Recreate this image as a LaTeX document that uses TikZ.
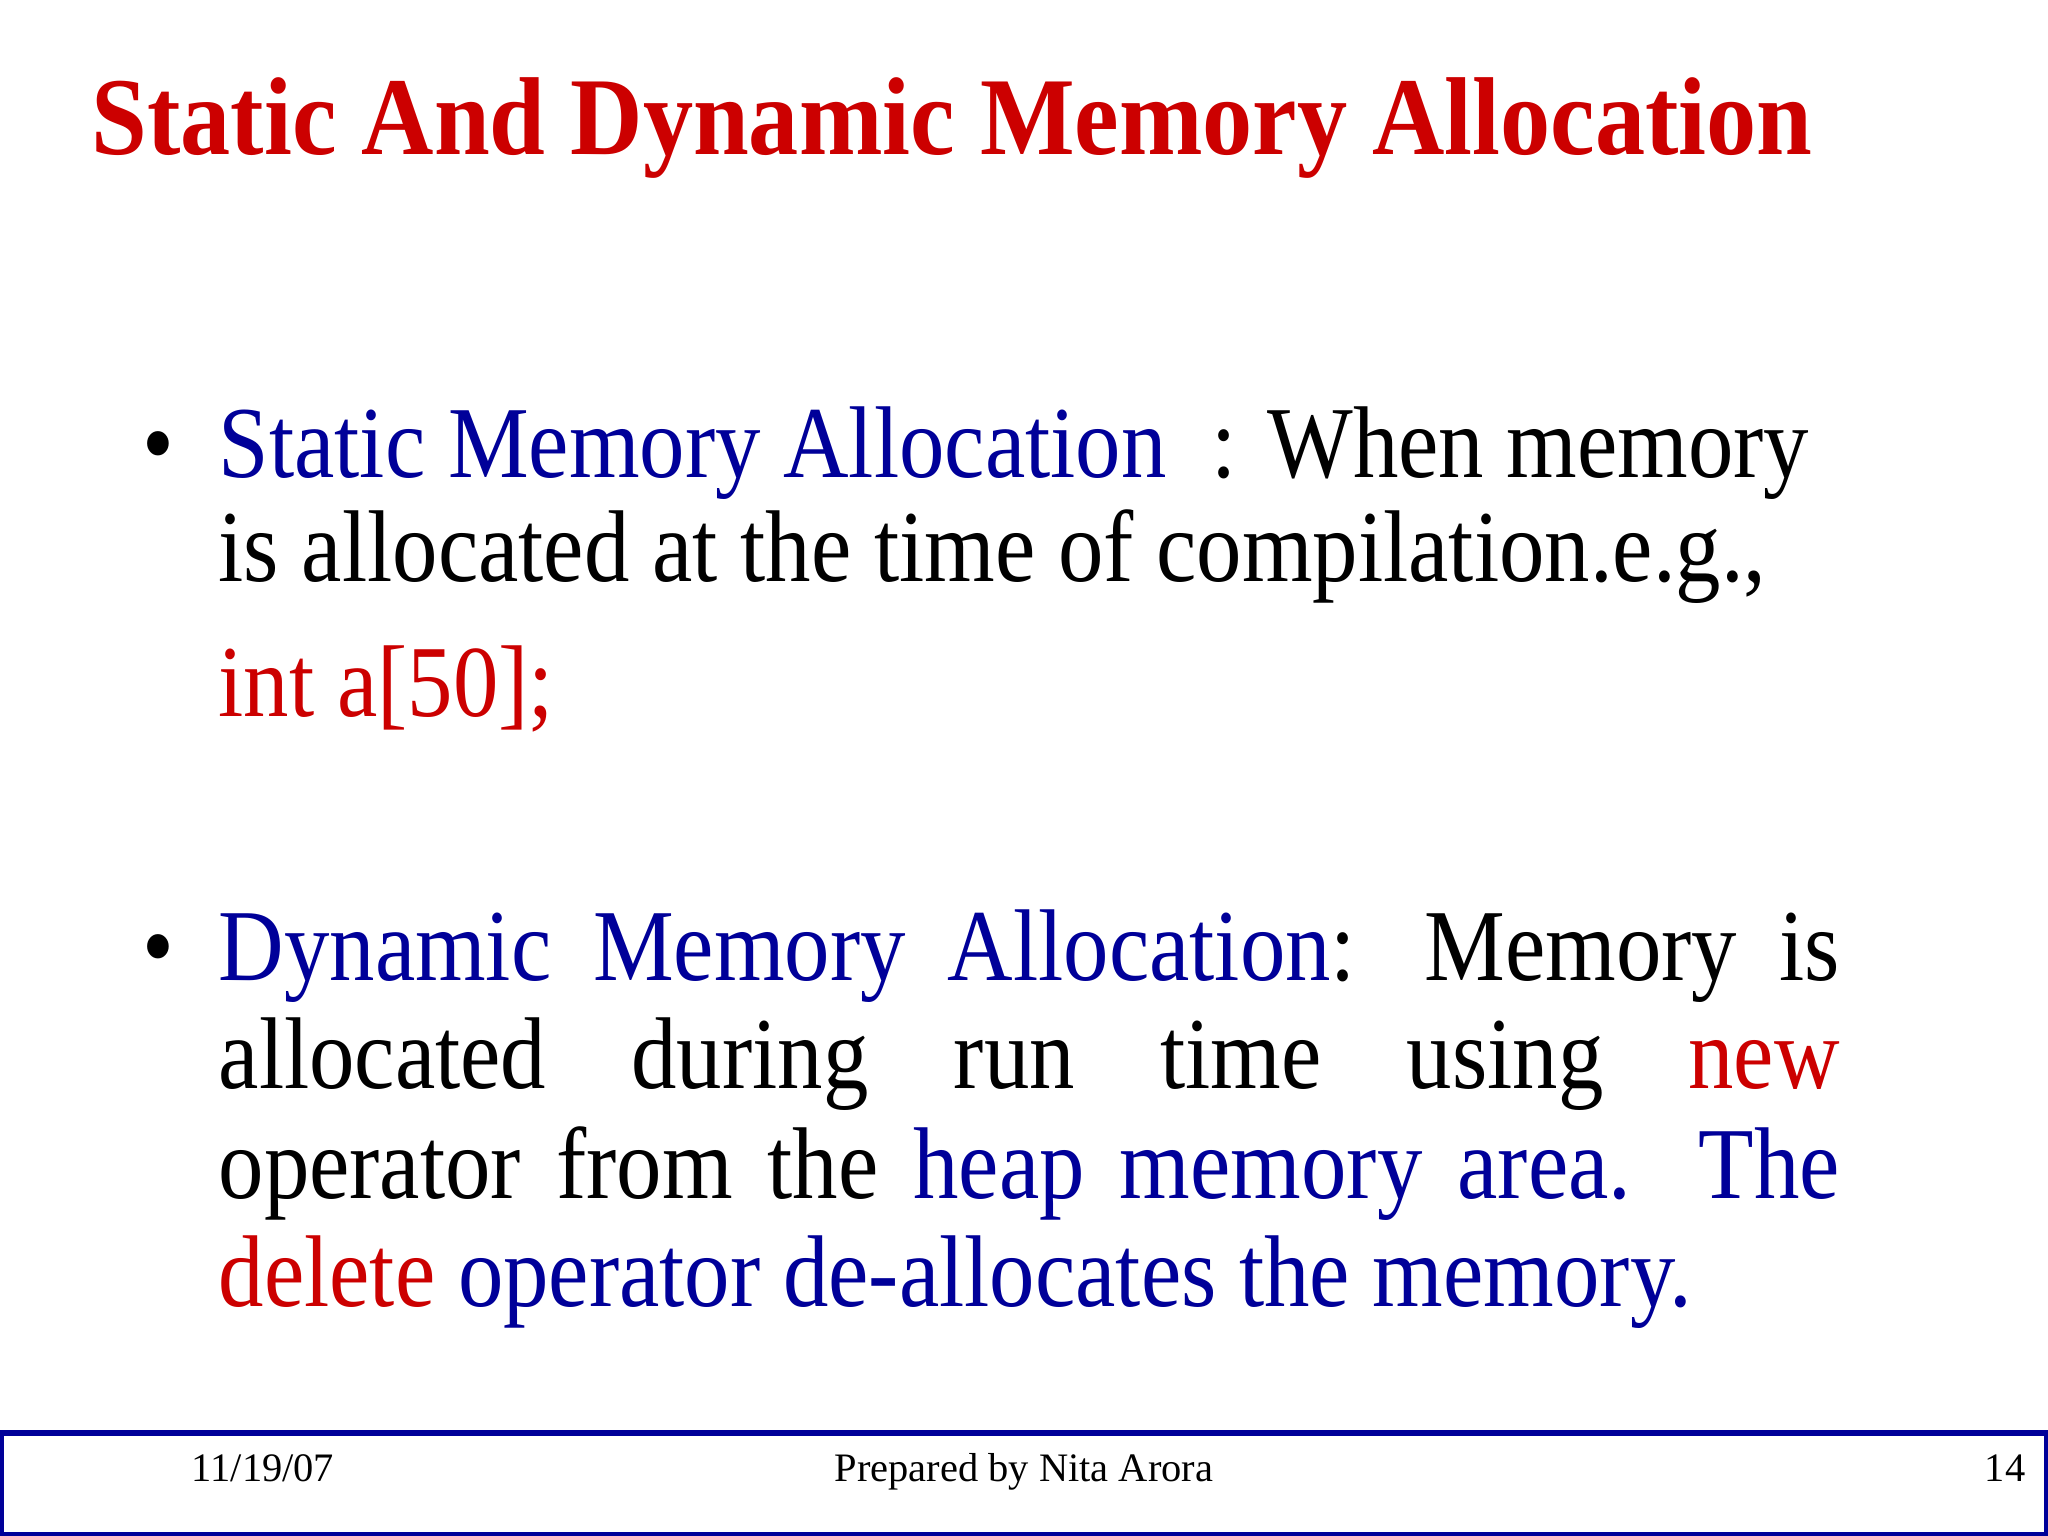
\documentclass[tikz,border=0pt]{standalone}
\usepackage{fontspec}
\setmainfont{Liberation Serif}
\newfontfamily\narrowbody[FakeStretch=0.89]{Liberation Serif}
\newfontfamily\narrowtitle[FakeStretch=0.905]{Liberation Serif}
\definecolor{sred}{RGB}{204,0,0}
\definecolor{sblue}{RGB}{0,0,153}
\begin{document}
\begin{tikzpicture}[x=0.01cm,y=-0.01cm,
  txt/.style={anchor=base west,inner sep=0pt,font=\narrowbody\fontsize{29}{31}\selectfont},
  foot/.style={anchor=base,inner sep=0pt,font=\fontsize{11.5}{13}\selectfont}]
\useasboundingbox (0,0) rectangle (2048,1536);
\fill[white] (0,0) rectangle (2048,1536);
\node[anchor=base west,inner sep=0pt,font=\narrowtitle\fontsize{31.5}{34}\selectfont\bfseries,text=sred] (title) at (91,154) {Static And Dynamic Memory Allocation};
\node[txt] (b1) at (142,477) {•};
\node[txt] (s1) at (218,477) {\textcolor{sblue}{Static Memory Allocation}\ \ : When memory};
\node[txt] (s2) at (218,581) {is allocated at the time of compilation.e.g.,};
\node[txt,text=sred] (s3) at (218,716) {int a[50];};
\node[txt] (b2) at (142,980) {•};
\node[txt] (d1) at (218,980) {\makebox[1621\dimexpr0.01cm][s]{\textcolor{sblue}{Dynamic Memory Allocation}: Memory is}};
\node[txt] (d2) at (218,1088) {\makebox[1621\dimexpr0.01cm][s]{allocated during run time using \textcolor{sred}{new}}};
\node[txt] (d3) at (218,1198) {\makebox[1621\dimexpr0.01cm][s]{operator from the \textcolor{sblue}{heap memory area. The}}};
\node[txt] (d4) at (218,1306) {\textcolor{sred}{delete} \textcolor{sblue}{operator de-allocates the memory.}};
\draw[sblue,line width=1.5pt] (1,1433) rectangle (2047,1535);
\node[foot] (f1) at (263,1481) {11/19/07};
\node[foot] (f2) at (1024,1481) {Prepared by Nita Arora};
\node[foot,anchor=base east] (f3) at (2026,1481) {14};
\end{tikzpicture}
\end{document}
